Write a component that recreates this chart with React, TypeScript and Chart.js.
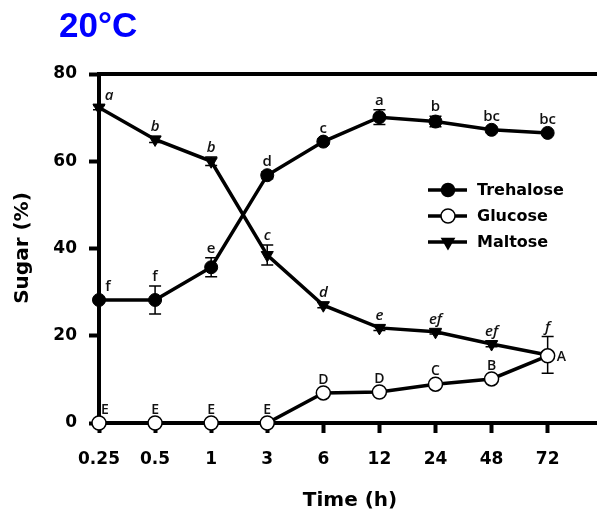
import React, { useEffect, useRef } from "react";
import { Chart, registerables } from "chart.js";

Chart.register(...registerables);

const TIME_LABELS = ["0.25", "0.5", "1", "3", "6", "12", "24", "48", "72"];
const Y_TICKS = [0, 20, 40, 60, 80];

const TREHALOSE = [28.2, 28.2, 35.7, 56.8, 64.5, 70.1, 69.1, 67.2, 66.5];
const TREHALOSE_ERR = [0.5, 3.2, 2.2, 0.8, 0.6, 1.7, 1.2, 0.6, 0.5];
const TREHALOSE_LETTERS = ["f", "f", "e", "d", "c", "a", "b", "bc", "bc"];

const GLUCOSE = [0, 0, 0, 0, 6.9, 7.1, 8.9, 10.1, 15.4];
const GLUCOSE_ERR = [0, 0, 0, 0, 0.3, 0.3, 0.4, 0.5, 0.6];
const GLUCOSE_LETTERS = ["E", "E", "E", "E", "D", "D", "C", "B", "A"];

const MALTOSE = [72.3, 65.0, 60.0, 38.5, 27.0, 21.8, 20.9, 18.1, 15.6];
const MALTOSE_ERR = [0.5, 0.7, 1.0, 2.3, 0.6, 0.6, 0.5, 0.6, 4.2];
const MALTOSE_LETTERS = ["a", "b", "b", "c", "d", "e", "ef", "ef", "f"];

const TITLE = "20°C";
const X_TITLE = "Time (h)";
const Y_TITLE = "Sugar (%)";
const LEGEND = ["Trehalose", "Glucose", "Maltose"];

const toXY = (arr: number[]) => arr.map((y, i) => ({ x: i, y }));

const BOLD_FONT = '"DejaVu Sans", sans-serif';
const LETTER_FONT = '"Open Sans", sans-serif';

function drawMarker(ctx: CanvasRenderingContext2D, kind: number, x: number, y: number) {
  ctx.save();
  ctx.lineWidth = 1.5;
  ctx.strokeStyle = "#000";
  if (kind === 0 || kind === 1) {
    ctx.beginPath();
    ctx.arc(x, y, kind === 0 ? 6.5 : 7, 0, Math.PI * 2);
    ctx.fillStyle = kind === 0 ? "#000" : "#fff";
    ctx.fill();
    ctx.stroke();
  } else {
    const r = 7;
    ctx.beginPath();
    ctx.moveTo(x, y + r);
    ctx.lineTo(x - r * Math.sin(Math.PI / 3), y - r / 2);
    ctx.lineTo(x + r * Math.sin(Math.PI / 3), y - r / 2);
    ctx.closePath();
    ctx.fillStyle = "#000";
    ctx.fill();
    ctx.stroke();
  }
  ctx.restore();
}

const annotPlugin = {
  id: "annot",
  beforeDatasetsDraw(chart: any) {
    const { ctx, chartArea, scales, width } = chart;
    const ys = scales.y;
    ctx.save();
    // top frame line
    ctx.strokeStyle = "#000";
    ctx.lineWidth = 4;
    ctx.beginPath();
    ctx.moveTo(chartArea.left - 2, chartArea.top);
    ctx.lineTo(width, chartArea.top);
    ctx.stroke();
    // error bars
    const errs = [TREHALOSE_ERR, GLUCOSE_ERR, MALTOSE_ERR];
    const vals = [TREHALOSE, GLUCOSE, MALTOSE];
    ctx.lineWidth = 1.5;
    errs.forEach((err, di) => {
      const meta = chart.getDatasetMeta(di);
      err.forEach((e, i) => {
        if (!e) return;
        const px = meta.data[i].x;
        const top = ys.getPixelForValue(vals[di][i] + e);
        const bot = ys.getPixelForValue(vals[di][i] - e);
        ctx.beginPath();
        ctx.moveTo(px, top);
        ctx.lineTo(px, bot);
        ctx.moveTo(px - 6, top);
        ctx.lineTo(px + 6, top);
        ctx.moveTo(px - 6, bot);
        ctx.lineTo(px + 6, bot);
        ctx.stroke();
      });
    });
    ctx.restore();
  },
  afterDatasetsDraw(chart: any) {
    const { ctx, scales } = chart;
    const ys = scales.y;
    ctx.save();
    ctx.fillStyle = "#111";
    ctx.textAlign = "center";
    ctx.textBaseline = "alphabetic";
    // trehalose letters
    ctx.font = `600 15px ${LETTER_FONT}`;
    const mt = chart.getDatasetMeta(0);
    TREHALOSE_LETTERS.forEach((l, i) => {
      const p = mt.data[i];
      const errTop = ys.getPixelForValue(TREHALOSE[i] + TREHALOSE_ERR[i]);
      const base = Math.min(errTop - 5, p.y - 9);
      ctx.fillText(l, p.x + (i === 0 ? 9 : 0), base);
    });
    // maltose letters
    ctx.font = `italic 600 15px ${LETTER_FONT}`;
    const mm = chart.getDatasetMeta(2);
    MALTOSE_LETTERS.forEach((l, i) => {
      const p = mm.data[i];
      const errTop = ys.getPixelForValue(MALTOSE[i] + MALTOSE_ERR[i]);
      const base = Math.min(errTop - 5, p.y - 8);
      ctx.fillText(l, p.x + (i === 0 ? 10 : 0), base);
    });
    // glucose letters
    ctx.font = `600 14px ${LETTER_FONT}`;
    const mg = chart.getDatasetMeta(1);
    GLUCOSE_LETTERS.forEach((l, i) => {
      const p = mg.data[i];
      if (i === GLUCOSE_LETTERS.length - 1) {
        ctx.textAlign = "left";
        ctx.textBaseline = "middle";
        ctx.fillText(l, p.x + 9, p.y + 1);
        ctx.textAlign = "center";
        ctx.textBaseline = "alphabetic";
      } else {
        ctx.fillText(l, p.x + (i === 0 ? 6 : 0), p.y - 9);
      }
    });
    // legend
    const ly = [190, 216, 242];
    LEGEND.forEach((name, i) => {
      ctx.strokeStyle = "#000";
      ctx.lineWidth = 3.5;
      ctx.beginPath();
      ctx.moveTo(428, ly[i]);
      ctx.lineTo(467, ly[i]);
      ctx.stroke();
      drawMarker(ctx, i, 448, ly[i]);
      ctx.fillStyle = "#000";
      ctx.font = `bold 16px ${BOLD_FONT}`;
      ctx.textAlign = "left";
      ctx.textBaseline = "middle";
      ctx.fillText(name, 477, ly[i] + 1);
    });
    ctx.restore();
  },
  afterDraw(chart: any) {
    const { ctx } = chart;
    ctx.save();
    ctx.fillStyle = "#0000ff";
    ctx.font = 'bold 35px "Liberation Sans", Arial, sans-serif';
    ctx.textAlign = "left";
    ctx.textBaseline = "alphabetic";
    ctx.fillText(TITLE, 59, 37);
    ctx.fillStyle = "#000";
    ctx.font = `bold 20px ${BOLD_FONT}`;
    ctx.textAlign = "center";
    ctx.fillText(X_TITLE, 350, 506);
    ctx.translate(28, 248);
    ctx.rotate(-Math.PI / 2);
    ctx.fillText(Y_TITLE, 0, 0);
    ctx.restore();
  },
};

export default function App() {
  const ref = useRef<HTMLCanvasElement | null>(null);
  useEffect(() => {
    if (!ref.current) return;
    const chart = new Chart(ref.current, {
      type: "line",
      data: {
        datasets: [
          {
            label: LEGEND[0],
            data: toXY(TREHALOSE),
            borderColor: "#000",
            backgroundColor: "#000",
            borderWidth: 3.5,
            pointStyle: "circle",
            pointRadius: 6.5,
            pointBorderWidth: 1,
            pointBackgroundColor: "#000",
            pointBorderColor: "#000",
            clip: false,
          },
          {
            label: LEGEND[1],
            data: toXY(GLUCOSE),
            borderColor: "#000",
            backgroundColor: "#fff",
            borderWidth: 3.5,
            pointStyle: "circle",
            pointRadius: 7,
            pointBorderWidth: 1.5,
            pointBackgroundColor: "#fff",
            pointBorderColor: "#000",
            clip: false,
          },
          {
            label: LEGEND[2],
            data: toXY(MALTOSE),
            borderColor: "#000",
            backgroundColor: "#000",
            borderWidth: 3.5,
            pointStyle: "triangle",
            rotation: 180,
            pointRadius: 7,
            pointBorderWidth: 1,
            pointBackgroundColor: "#000",
            pointBorderColor: "#000",
            clip: false,
          } as any,
        ],
      },
      options: {
        animation: false,
        responsive: false,
        events: [],
        layout: { autoPadding: false, padding: { top: 74, left: 0, right: 0, bottom: 0 } },
        plugins: {
          legend: { display: false },
          tooltip: { enabled: false },
          title: { display: false },
        },
        scales: {
          x: {
            type: "linear",
            min: 0,
            max: 8.88,
            afterBuildTicks: (scale: any) => {
              scale.ticks = TIME_LABELS.map((_, i) => ({ value: i }));
            },
            afterFit: (scale: any) => {
              scale.height = 89;
              scale.paddingLeft = 0;
              scale.paddingRight = 0;
            },
            ticks: {
              autoSkip: false,
              maxRotation: 0,
              padding: 16,
              color: "#000",
              font: { family: BOLD_FONT, size: 17, weight: "bold" },
              callback: (v: any) => TIME_LABELS[Math.round(Number(v))] ?? "",
            },
            grid: {
              drawOnChartArea: false,
              drawTicks: true,
              tickLength: 10,
              tickWidth: 4,
              tickColor: "#000",
            },
            border: { display: true, color: "#000", width: 4 },
          },
          y: {
            type: "linear",
            min: 0,
            max: 80,
            afterBuildTicks: (scale: any) => {
              scale.ticks = Y_TICKS.map((v) => ({ value: v }));
            },
            afterFit: (scale: any) => {
              scale.width = 99;
            },
            ticks: {
              padding: 12,
              color: "#000",
              font: { family: BOLD_FONT, size: 17, weight: "bold" },
            },
            grid: {
              drawOnChartArea: false,
              drawTicks: true,
              tickLength: 10,
              tickWidth: 4,
              tickColor: "#000",
            },
            border: { display: true, color: "#000", width: 4 },
          },
        },
      },
      plugins: [annotPlugin],
    } as any);
    return () => chart.destroy();
  }, []);
  return (
    <div style={{ position: "fixed", left: 0, top: 0, width: 597, height: 512, background: "#fff" }}>
      <canvas ref={ref} width={597} height={512} />
    </div>
  );
}
